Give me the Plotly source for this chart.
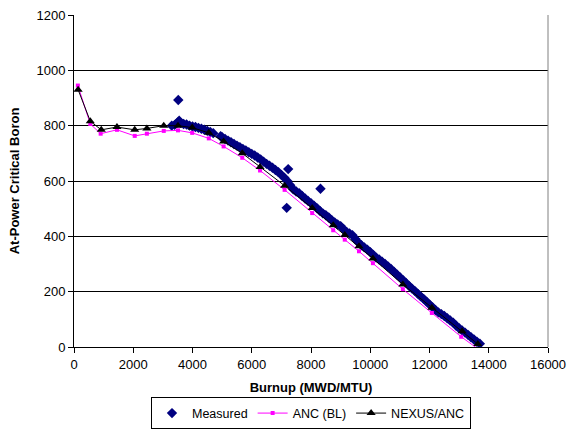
import plotly.graph_objects as go

# ---------------- data ----------------
meas_x = [3300, 3400, 3500, 3550, 3600, 3700, 3800, 3900, 4000, 4100, 4200, 4300, 4400, 4500, 4600, 4700,
          4950, 5000, 5100, 5200, 5300, 5400, 5500, 5600, 5700, 5800, 5900, 6000, 6100, 6200, 6300, 6400,
          6500, 6600, 6700, 6800, 6900, 7000, 7100, 7200, 7300, 7400, 7500, 7600, 7700, 7800, 7900, 8000,
          8100, 8200, 8300, 8400, 8500, 8600, 8700, 8800, 8900, 9000, 9100, 9200, 9300, 9400, 9500, 9600,
          9700, 9800, 9900, 10000, 10100, 10200, 10300, 10400, 10500, 10600, 10700, 10800, 10900, 11000,
          11100, 11200, 11300, 11400, 11500, 11600, 11700, 11800, 11900, 12000, 12100, 12200, 12300, 12400,
          12500, 12600, 12700, 12800, 12900, 13000, 13100, 13200, 13300, 13400, 13500, 13600, 13700,
          3520, 7230, 7180, 8320]
meas_y = [800, 803, 812, 818, 810, 806, 804, 800, 797, 795, 792, 789, 785, 781, 777, 773,
          762, 758, 752, 746, 740, 734, 728, 722, 716, 710, 704, 698, 692, 685, 678, 670,
          662, 655, 648, 640, 632, 622, 612, 600, 585, 570, 562, 556, 546, 537, 528, 520,
          511, 502, 492, 483, 476, 468, 458, 450, 443, 437, 426, 416, 410, 404, 390, 378,
          368, 360, 352, 343, 333, 323, 316, 308, 300, 291, 282, 272, 262, 252,
          242, 232, 222, 212, 203, 193, 183, 174, 164, 154, 144, 134, 125, 119,
          112, 104, 96, 88, 77, 68, 60, 52, 44, 35, 27, 19, 12,
          893, 643, 503, 572]

anc_x = [130, 550, 900, 1450, 2050, 2460, 3030, 3510, 3990, 4550, 5050, 5680, 6280, 7110, 8040, 8750,
         9140, 9620, 10090, 11100, 12080, 13070, 13650]
anc_y = [945, 806, 771, 785, 763, 771, 781, 783, 774, 754, 725, 684, 638, 568, 484, 422,
         388, 346, 303, 209, 123, 37, -8]

nex_x = [140, 550, 920, 1450, 2050, 2460, 3030, 3510, 3990, 4550, 5050, 5680, 6280, 7110, 8040, 8750,
         9140, 9620, 10090, 11100, 12080, 13100, 13630]
nex_y = [930, 816, 785, 795, 785, 790, 800, 800, 793, 774, 743, 700, 651, 583, 502, 440,
         405, 364, 320, 226, 142, 57, 11]

x_ticks = [0, 2000, 4000, 6000, 8000, 10000, 12000, 14000, 16000]
y_ticks = [0, 200, 400, 600, 800, 1000, 1200]

FONT = "Liberation Sans, Arial, sans-serif"

fig = go.Figure()
fig.add_trace(go.Scatter(x=meas_x, y=meas_y, mode="markers", name="Measured",
                         marker=dict(symbol="diamond", size=8, color="#000080")))
fig.add_trace(go.Scatter(x=anc_x, y=anc_y, mode="lines+markers", name="ANC (BL)",
                         line=dict(color="#FF00FF", width=1),
                         marker=dict(symbol="square", size=4, color="#FF00FF")))
fig.add_trace(go.Scatter(x=nex_x, y=nex_y, mode="lines+markers", name="NEXUS/ANC",
                         line=dict(color="#000000", width=1),
                         marker=dict(symbol="triangle-up", size=8, color="#000000")))

fig.update_layout(
    width=570, height=433,
    margin=dict(l=74, r=22, t=15, b=86, autoexpand=False),
    paper_bgcolor="white", plot_bgcolor="white",
    font=dict(family=FONT, size=13, color="black"),
    showlegend=True,
    legend=dict(orientation="h", x=0.5, xanchor="center", y=-0.152, yanchor="top",
                bordercolor="black", borderwidth=1, bgcolor="white",
                font=dict(family=FONT, size=12.5), itemwidth=30, tracegroupgap=0),
    xaxis=dict(range=[0, 16000], tickvals=x_ticks, ticktext=[str(v) for v in x_ticks],
               showgrid=False, zeroline=False, showline=True, linecolor="black", linewidth=1,
               ticks="outside", ticklen=5, tickcolor="black", tickfont=dict(size=13),
               title=dict(text="<b>Burnup (MWD/MTU)</b>", font=dict(size=13), standoff=12)),
    yaxis=dict(range=[0, 1200], tickvals=y_ticks, ticktext=[str(v) for v in y_ticks],
               showgrid=True, gridcolor="#000000", gridwidth=1, zeroline=False,
               showline=True, linecolor="black", linewidth=1,
               ticks="outside", ticklen=5, tickcolor="black", tickfont=dict(size=13),
               title=dict(text="<b>At-Power Critical Boron</b>", font=dict(size=13), standoff=13)),
    shapes=[dict(type="line", xref="paper", yref="paper", x0=1, x1=1, y0=0, y1=1,
                 line=dict(color="#808080", width=1))],
)

fig.write_html("out.html", config={"displayModeBar": False},
               post_script="document.body.style.margin='0';document.body.style.overflow='hidden';")
